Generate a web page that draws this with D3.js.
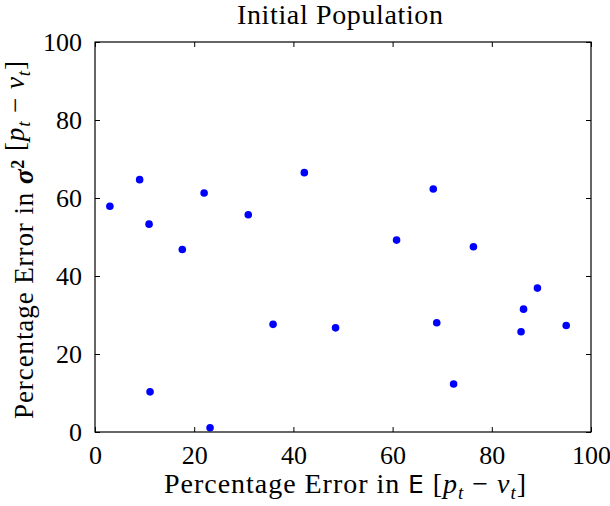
<!DOCTYPE html>
<html>
<head>
<meta charset="utf-8">
<script src="https://d3js.org/d3.v7.min.js"></script>
<style>
  html, body { margin: 0; padding: 0; background: #fff; }
  svg { display: block; }
</style>
</head>
<body>
<script>
// Data
const errMean = [3.0, 9.0, 10.9, 11.1, 17.6, 22.0, 23.2, 30.9, 35.9, 42.2, 48.5, 60.8, 68.2, 68.9, 72.3, 76.3, 85.9, 86.4, 89.2, 95.0];
const errVar  = [57.9, 64.7, 53.3, 10.3, 46.8, 61.3, 1.1, 55.7, 27.6, 66.5, 26.7, 49.2, 62.3, 28.0, 12.3, 47.5, 25.7, 31.5, 36.9, 27.3];
const xTicks = [0, 20, 40, 60, 80, 100];
const yTicks = [0, 20, 40, 60, 80, 100];
const titleText = "Initial Population";

(function () {
const W = 610, H = 506;
const margin = { left: 95, right: 19, top: 42, bottom: 74 };
const serif = "'Liberation Serif', 'Times New Roman', serif";
const sans = "'DejaVu Sans', 'Liberation Sans', sans-serif";

const svg = d3.select("body").append("svg").attr("width", W).attr("height", H);

const x = d3.scaleLinear().domain([0, 100]).range([margin.left, W - margin.right]);
const y = d3.scaleLinear().domain([0, 100]).range([H - margin.bottom, margin.top]);

const tickLen = 5;
const fs = 26;

svg.append("g").selectAll("circle")
  .data(errMean.map((v, i) => [v, errVar[i]]))
  .join("circle")
  .attr("cx", d => x(d[0]))
  .attr("cy", d => y(d[1]))
  .attr("r", 3.8)
  .attr("fill", "#0000ff");

function styleAxis(g) {
  g.select(".domain").remove();
  g.selectAll(".tick line").attr("stroke", "#000").attr("stroke-width", 1);
  g.selectAll(".tick text").attr("font-family", serif).attr("font-size", fs).attr("fill", "#000");
}

const axB = svg.append("g")
  .attr("transform", `translate(0,${y(0)})`)
  .call(d3.axisBottom(x).tickValues(xTicks).tickSizeInner(-tickLen).tickSizeOuter(0).tickPadding(tickLen + 9).tickFormat(d3.format("d")));
styleAxis(axB);

const axT = svg.append("g")
  .attr("transform", `translate(0,${y(100)})`)
  .call(d3.axisTop(x).tickValues(xTicks).tickSizeInner(-tickLen).tickSizeOuter(0).tickFormat(""));
styleAxis(axT);

const axL = svg.append("g")
  .attr("transform", `translate(${x(0)},0)`)
  .call(d3.axisLeft(y).tickValues(yTicks).tickSizeInner(-tickLen).tickSizeOuter(0).tickPadding(tickLen + 8).tickFormat(d3.format("d")));
styleAxis(axL);

const axR = svg.append("g")
  .attr("transform", `translate(${x(100)},0)`)
  .call(d3.axisRight(y).tickValues(yTicks).tickSizeInner(-tickLen).tickSizeOuter(0).tickFormat(""));
styleAxis(axR);

svg.append("rect")
  .attr("x", x(0)).attr("y", y(100))
  .attr("width", x(100) - x(0)).attr("height", y(0) - y(100))
  .attr("fill", "none").attr("stroke", "#000").attr("stroke-width", 1.2);

svg.append("text")
  .attr("x", 340).attr("y", 24)
  .attr("text-anchor", "middle")
  .attr("font-family", serif).attr("font-size", 28)
  .attr("textLength", 206).attr("lengthAdjust", "spacing")
  .text(titleText);

function addBracketExpr(t) {
  t.append("tspan").text(" [");
  t.append("tspan").attr("font-style", "italic").text("p");
  t.append("tspan").attr("font-style", "italic").attr("font-size", 19).attr("dy", 6).text("t");
  t.append("tspan").attr("dy", -6).text(" − ");
  t.append("tspan").attr("font-style", "italic").text("v");
  t.append("tspan").attr("font-style", "italic").attr("font-size", 19).attr("dy", 6).text("t");
  t.append("tspan").attr("dy", -6).text("]");
}

const xl = svg.append("text")
  .attr("x", 345).attr("y", 493)
  .attr("text-anchor", "middle")
  .attr("font-family", serif).attr("font-size", 28)
  .attr("textLength", 362).attr("lengthAdjust", "spacing");
xl.append("tspan").text("Percentage Error in ");
xl.append("tspan").attr("font-family", sans).attr("font-size", 25).text("E");
addBracketExpr(xl);

const yl = svg.append("text")
  .attr("transform", `translate(33,240) rotate(-90)`)
  .attr("text-anchor", "middle")
  .attr("font-family", serif).attr("font-size", 27)
  .attr("textLength", 358).attr("lengthAdjust", "spacing");
yl.append("tspan").text("Percentage Error in ");
yl.append("tspan").attr("font-style", "italic").attr("font-weight", "bold").text("σ");
yl.append("tspan").attr("font-weight", "bold").attr("font-size", 18).attr("dy", -9).text("2");
yl.append("tspan").attr("dy", 9).text("");
addBracketExpr(yl);
})();
</script>
</body>
</html>
